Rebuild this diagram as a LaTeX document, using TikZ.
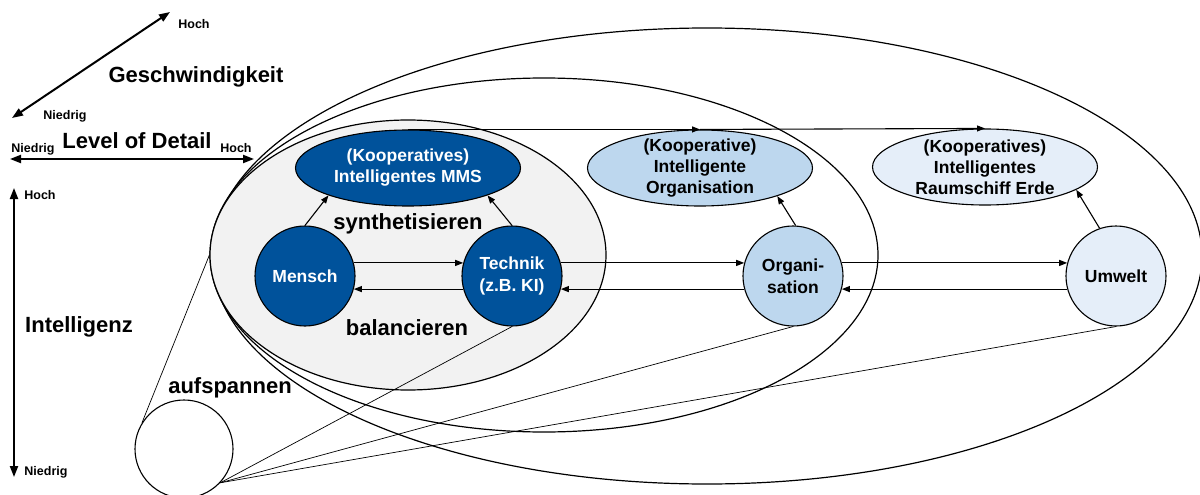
\documentclass[tikz,border=0pt]{standalone}
\usepackage{fontspec}
\setmainfont{Liberation Sans}
\usetikzlibrary{shapes.geometric,arrows.meta}
\definecolor{dunkelblau}{RGB}{0,82,155}
\definecolor{mittelblau}{RGB}{189,215,238}
\definecolor{hellblau}{RGB}{229,238,249}
\definecolor{hellgrau}{RGB}{242,242,242}

\begin{document}
\begin{tikzpicture}[x=1pt,y=-1pt,
	gross/.style={font=\fontsize{22}{26}\selectfont\bfseries, inner sep=0.75pt, anchor=base},
	klein/.style={font=\fontsize{12.5}{15}\selectfont\bfseries, inner sep=0.75pt, anchor=base},
	achse/.style={line width=2pt, {Triangle[length=11pt,width=8pt]}-{Triangle[length=11pt,width=8pt]}},
	pfeil/.style={line width=1.1pt, -{Triangle[length=8pt,width=6pt]}},
	kreis/.style={circle, draw, line width=1.1pt, minimum size=100pt, inner sep=2pt, align=center, font=\fontsize{17.5}{21.5}\selectfont\bfseries},
	oval/.style={ellipse, draw, line width=1.1pt, minimum width=225pt, minimum height=76pt, inner xsep=0pt, inner ysep=-6pt, align=center, font=\fontsize{17.5}{21}\selectfont\bfseries},
	ring/.style={ellipse, draw, line width=1.2pt, inner sep=0pt},
	faden/.style={line width=0.7pt}]
	\useasboundingbox (0,0) rectangle (1200,495);
	
	%Straight Lines (axes)
	\coordinate (g0) at (12,118); \coordinate (g1) at (170,12);
	\coordinate (d0) at (10,159); \coordinate (d1) at (254,159);
	\coordinate (i0) at (14,477); \coordinate (i1) at (14,188);
	\draw [achse] (g0) -- (g1) ;
	\draw [achse] (d0) -- (d1) ;
	\draw [achse] (i0) -- (i1) ;
	
	%Shape: Ellipse (rings)
	\node [ring, minimum width=990pt, minimum height=456pt] (huelle) at (707,256) {};
	\node [ring, minimum width=668pt, minimum height=354pt] (schale) at (544,255) {};
	\node [ring, fill=hellgrau, minimum width=396pt, minimum height=270pt] (kern) at (408,255) {};
	
	%Shape: Circle
	\node [circle, draw, line width=1.1pt, minimum size=98pt, inner sep=0pt] (keim) at (184,449) {};
	\node [kreis, fill=dunkelblau, text=white] (mensch) at (305,276) {Mensch};
	\node [kreis, fill=dunkelblau, text=white] (technik) at (512,276) {Technik\\(z.B. KI)};
	\node [kreis, fill=mittelblau] (orga) at (793,276) {Organi-\\sation};
	\node [kreis, fill=hellblau] (umwelt) at (1116,276) {Umwelt};
	
	%Straight Lines (spanning)
	\draw [faden] (keim.148) -- (kern.west) ;
	\draw [faden] (keim.-43) -- (technik.south) ;
	\draw [faden] (keim.-43) -- (orga.south) ;
	\draw [faden] (keim.-43) -- (umwelt.south) ;
	
	%Shape: Ellipse (goals)
	\node [oval, fill=dunkelblau, text=white] (mms) at (408,168) {(Kooperatives)\\Intelligentes MMS};
	\node [oval, fill=mittelblau] (orgaziel) at (700,168) {(Kooperative)\\Intelligente\\Organisation};
	\node [oval, fill=hellblau] (erde) at (985,167) {(Kooperatives)\\Intelligentes\\Raumschiff Erde};
	
	%Straight Lines (arrows)
	\draw [pfeil] (mensch.15) -- (technik.165) ;
	\draw [pfeil] (technik.-165) -- (mensch.-15) ;
	\draw [pfeil] (technik.15) -- (orga.165) ;
	\draw [pfeil] (orga.-165) -- (technik.-15) ;
	\draw [pfeil] (orga.15) -- (umwelt.165) ;
	\draw [pfeil] (umwelt.-165) -- (orga.-15) ;
	\draw [pfeil] (mensch.north) -- (mms.-161) ;
	\draw [pfeil] (technik.north) -- (mms.-19) ;
	\draw [pfeil] (orga.87) -- (orgaziel.-20) ;
	\draw [pfeil] (umwelt.109) -- (erde.-14) ;
	\draw [pfeil] (mms.north) -- (orgaziel.north) ;
	\draw [pfeil] (orgaziel.north) -- (erde.north) ;
	
	% Text Node
	\draw (196,82) node [gross] (tempo) {Geschwindigkeit};
	% Text Node
	\draw (137,148) node [gross] (detail) {Level of Detail};
	% Text Node
	\draw (79,332) node [gross] (intel) {Intelligenz};
	% Text Node
	\draw (408,229) node [gross] (synth) {synthetisieren};
	% Text Node
	\draw (407,335) node [gross] (balance) {balancieren};
	% Text Node
	\draw (230,393) node [gross] (spann) {aufspannen};
	% Text Node
	\draw (194,29) node [klein] (hocha) {Hoch};
	% Text Node
	\draw (65,120) node [klein] (niedriga) {Niedrig};
	% Text Node
	\draw (33,152) node [klein] (niedrigb) {Niedrig};
	% Text Node
	\draw (236,152) node [klein] (hochb) {Hoch};
	% Text Node
	\draw (40,199) node [klein] (hochc) {Hoch};
	% Text Node
	\draw (46,475) node [klein] (niedrigc) {Niedrig};
	
\end{tikzpicture}
\end{document}
